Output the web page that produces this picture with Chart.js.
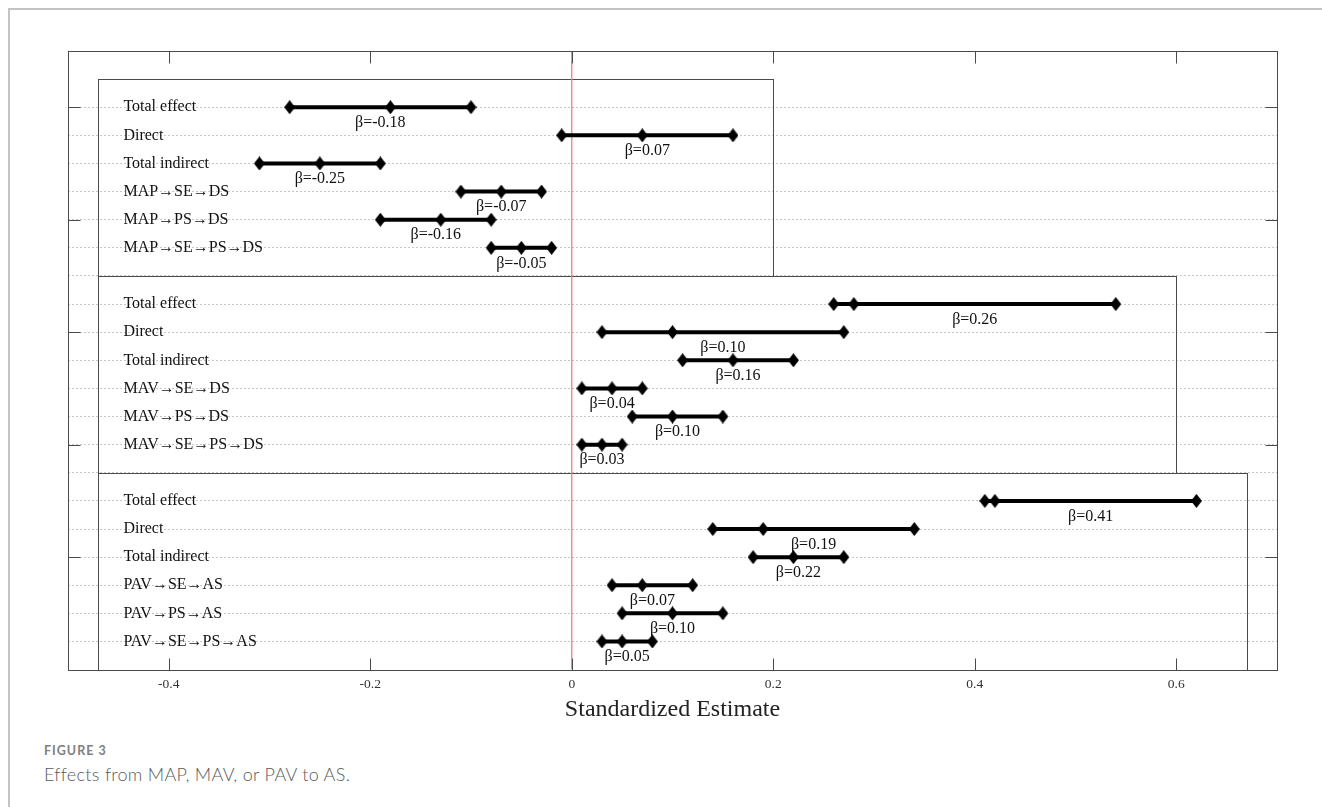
<!DOCTYPE html>
<html>
<head>
<meta charset="utf-8">
<script src="https://cdn.jsdelivr.net/npm/chart.js@4.4.1/dist/chart.umd.min.js"></script>
<style>
  html, body { margin: 0; padding: 0; background: #fff; }
  #page { position: relative; width: 1322px; height: 807px; overflow: hidden; }
  #frame { position: absolute; left: 8px; top: 8px; width: 1330px; height: 820px;
           border-top: 2px solid #c4c4c4; border-left: 2px solid #c4c4c4; }
  #chart { position: absolute; left: 0; top: 0; }
  .fig-label { position: absolute; left: 44px; top: 743px; font: bold 12.5px Lato, sans-serif;
               color: #808080; letter-spacing: 1px; }
  .fig-caption { position: absolute; left: 44px; top: 763px; font: 300 18px Lato, sans-serif;
                 color: #5a5a5a; letter-spacing: 0.3px; }
</style>
</head>
<body>
<div id="page">
  <div id="frame"></div>
  <canvas id="chart" width="1322" height="737"></canvas>
  <div class="fig-label">FIGURE 3</div>
  <div class="fig-caption">Effects from MAP, MAV, or PAV to AS.</div>
</div>
<script>
// rows, top to bottom: MAP block, MAV block, PAV block
const rowLabels = [
  'Total effect', 'Direct', 'Total indirect', 'MAP→SE→DS', 'MAP→PS→DS', 'MAP→SE→PS→DS',
  'Total effect', 'Direct', 'Total indirect', 'MAV→SE→DS', 'MAV→PS→DS', 'MAV→SE→PS→DS',
  'Total effect', 'Direct', 'Total indirect', 'PAV→SE→AS', 'PAV→PS→AS', 'PAV→SE→PS→AS'
];
const lower    = [-0.28, -0.01, -0.31, -0.11, -0.19, -0.08,  0.26, 0.03, 0.11, 0.01, 0.06, 0.01,  0.41, 0.14, 0.18, 0.04, 0.05, 0.03];
const estimate = [-0.18,  0.07, -0.25, -0.07, -0.13, -0.05,  0.28, 0.10, 0.16, 0.04, 0.10, 0.03,  0.42, 0.19, 0.22, 0.07, 0.10, 0.05];
const upper    = [-0.10,  0.16, -0.19, -0.03, -0.08, -0.02,  0.54, 0.27, 0.22, 0.07, 0.15, 0.05,  0.62, 0.34, 0.27, 0.12, 0.15, 0.08];
const betaText = [
  'β=-0.18', 'β=0.07', 'β=-0.25', 'β=-0.07', 'β=-0.16', 'β=-0.05',
  'β=0.26', 'β=0.10', 'β=0.16', 'β=0.04', 'β=0.10', 'β=0.03',
  'β=0.41', 'β=0.19', 'β=0.22', 'β=0.07', 'β=0.10', 'β=0.05'
];
const xTicks = [-0.4, -0.2, 0, 0.2, 0.4, 0.6];
const panelLeft = -0.47;
const panelRight = [0.2, 0.6, 0.67];

const ROWS = 6;
const Y_MAX = 22;
// each block gets 6 rows plus one blank row between blocks
function rowY(i) { return Y_MAX - 2 - i - Math.floor(i / ROWS); }

const SERIF = '"Liberation Serif", "Times New Roman", serif';

function diamond(w, h) {
  const c = document.createElement('canvas');
  c.width = w; c.height = h;
  const g = c.getContext('2d');
  g.fillStyle = '#000';
  g.beginPath();
  g.moveTo(w / 2, 0); g.lineTo(w, h / 2); g.lineTo(w / 2, h); g.lineTo(0, h / 2);
  g.closePath();
  g.fill();
  return c;
}
const marker = diamond(11, 14);

const datasets = rowLabels.map((lab, i) => ({
  label: lab,
  data: [
    { x: lower[i], y: rowY(i) },
    { x: estimate[i], y: rowY(i) },
    { x: upper[i], y: rowY(i) }
  ],
  showLine: true,
  borderColor: '#000',
  borderWidth: 4,
  pointStyle: marker,
  pointRadius: 6,
  order: 0
}));
// zero reference line
datasets.push({
  label: 'zero',
  data: [{ x: 0, y: 0 }, { x: 0, y: Y_MAX }],
  showLine: true,
  borderColor: '#f08080',
  borderWidth: 1.3,
  pointRadius: 0,
  order: 10
});

const overlay = {
  id: 'overlay',
  beforeDatasetsDraw(chart) {
    const { ctx, scales: { x, y } } = chart;
    ctx.save();
    ctx.strokeStyle = '#4a4a4a';
    ctx.lineWidth = 1;
    panelRight.forEach((r, g) => {
      const l = Math.round(x.getPixelForValue(panelLeft)) + 0.5;
      const rr = Math.round(x.getPixelForValue(r)) + 0.5;
      const t = Math.round(y.getPixelForValue(Y_MAX - 1 - 7 * g)) + 0.5;
      const b = Math.round(y.getPixelForValue(Y_MAX - 8 - 7 * g)) + 0.5;
      ctx.strokeRect(l, t, rr - l, b - t);
    });
    ctx.restore();
  },
  afterDatasetsDraw(chart) {
    const { ctx, chartArea: a, scales: { x, y } } = chart;
    ctx.save();
    ctx.fillStyle = '#111';
    ctx.font = '16px ' + SERIF;
    ctx.textBaseline = 'middle';
    ctx.textAlign = 'left';
    const lx = x.getPixelForValue(-0.445);
    rowLabels.forEach((lab, i) => ctx.fillText(lab, lx, y.getPixelForValue(rowY(i))));
    ctx.textAlign = 'center';
    betaText.forEach((t, i) => {
      const px = x.getPixelForValue((lower[i] + upper[i]) / 2);
      ctx.fillText(t, px, y.getPixelForValue(rowY(i)) + 15.5);
    });

    // axes box with inward ticks
    ctx.strokeStyle = '#4a4a4a';
    ctx.lineWidth = 1;
    const L = Math.round(a.left) + 0.5, R = Math.round(a.right) + 0.5;
    const T = Math.round(a.top) + 0.5, B = Math.round(a.bottom) + 0.5;
    ctx.strokeRect(L, T, R - L, B - T);
    ctx.beginPath();
    xTicks.forEach(v => {
      const px = Math.round(x.getPixelForValue(v)) + 0.5;
      ctx.moveTo(px, T); ctx.lineTo(px, T + 12);
      ctx.moveTo(px, B); ctx.lineTo(px, B - 12);
    });
    for (let v = 4; v < Y_MAX; v += 4) {
      const py = Math.round(y.getPixelForValue(v)) + 0.5;
      ctx.moveTo(L, py); ctx.lineTo(L + 12, py);
      ctx.moveTo(R, py); ctx.lineTo(R - 12, py);
    }
    ctx.stroke();
    ctx.restore();
  }
};

new Chart(document.getElementById('chart'), {
  type: 'scatter',
  data: { datasets },
  options: {
    responsive: false,
    animation: false,
    events: [],
    layout: { padding: { left: 68, right: 45, top: 51, bottom: 18 } },
    plugins: { legend: { display: false }, tooltip: { enabled: false } },
    scales: {
      x: {
        type: 'linear',
        min: -0.5,
        max: 0.7,
        afterBuildTicks: scale => { scale.ticks = xTicks.map(v => ({ value: v })); },
        grid: { display: false, drawTicks: false },
        border: { display: false },
        ticks: {
          padding: 7,
          color: '#333',
          font: { family: SERIF, size: 13.5 },
          callback: v => String(Math.round(v * 10) / 10)
        },
        title: {
          display: true,
          text: 'Standardized Estimate',
          color: '#222',
          font: { family: SERIF, size: 24, lineHeight: 0.8 },
          padding: { top: 0, bottom: 0 }
        }
      },
      y: {
        type: 'linear',
        min: 0,
        max: Y_MAX,
        ticks: { display: false, stepSize: 1 },
        grid: {
          drawTicks: false,
          lineWidth: 1,
          color: c => (c.tick && c.tick.value >= 1 && c.tick.value <= 20) ? '#c6c6c6' : 'rgba(0,0,0,0)'
        },
        border: { display: false, dash: [2, 2] }
      }
    }
  },
  plugins: [overlay]
});
</script>
</body>
</html>
